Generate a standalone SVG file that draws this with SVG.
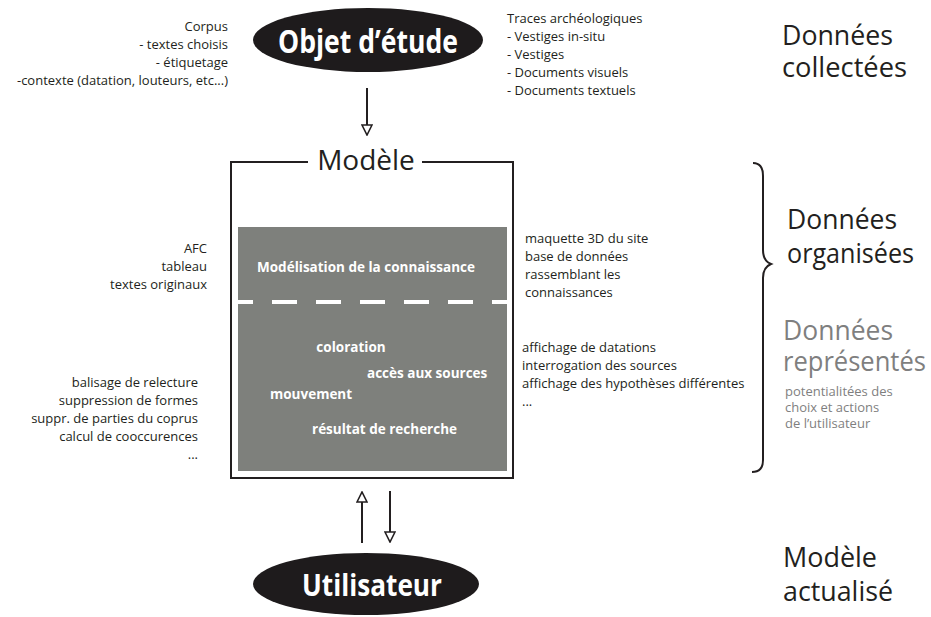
<svg xmlns="http://www.w3.org/2000/svg" width="931" height="617" viewBox="0 0 931 617">
<defs>
<style>
text{font-family:"Open Sans","Noto Sans","Liberation Sans",sans-serif;fill:#231f20}
.s{font-size:13px}
.big{font-size:27px}
.grey{fill:#7f7f7f}
.node{font-size:32px;font-weight:bold;fill:#fff}
.in{font-size:13.5px;font-weight:bold;fill:#fff}
.line{stroke:#231f20;stroke-width:2;fill:none}
</style>
<marker id="ah" viewBox="0 0 12 12" refX="11" refY="6" markerWidth="12" markerHeight="12" markerUnits="userSpaceOnUse" orient="auto">
<path d="M1,1 L11,6 L1,11 Z" fill="#fff" stroke="#231f20" stroke-width="1.6" stroke-linejoin="miter"/>
</marker>
</defs>
<rect width="931" height="617" fill="#fff"/>

<g id="objet">
<ellipse cx="368" cy="40" rx="115" ry="32" fill="#1e1b1c"/>
<text class="node" x="368" y="53" text-anchor="middle" textLength="180" lengthAdjust="spacingAndGlyphs">Objet d’étude</text>
</g>

<g id="corpus-notes" class="s">
<text x="228" y="31" text-anchor="end">Corpus</text>
<text x="228" y="49" text-anchor="end">- textes choisis</text>
<text x="228" y="67" text-anchor="end">- étiquetage</text>
<text x="228" y="85" text-anchor="end">-contexte (datation, louteurs, etc...)</text>
</g>

<g id="traces-notes" class="s">
<text x="507" y="23">Traces archéologiques</text>
<text x="507" y="41">- Vestiges in-situ</text>
<text x="507" y="59">- Vestiges</text>
<text x="507" y="77">- Documents visuels</text>
<text x="507" y="95">- Documents textuels</text>
</g>

<g id="modele">
<path class="line" d="M308,162 H231 V478 H513 V162 H422"/>
<text x="366" y="170" text-anchor="middle" style="font-size:28px">Modèle</text>
<rect x="238" y="227" width="269" height="244" fill="#7e807c"/>
<line x1="238" y1="302" x2="507" y2="302" stroke="#fff" stroke-width="4" stroke-dasharray="25 19" stroke-dashoffset="10"/>
<text class="in" x="366" y="272" text-anchor="middle">Modélisation de la connaissance</text>
<text class="in" x="351" y="352" text-anchor="middle">coloration</text>
<text class="in" x="367" y="378">accès aux sources</text>
<text class="in" x="270" y="399">mouvement</text>
<text class="in" x="312" y="434">résultat de recherche</text>
</g>

<g id="afc-notes" class="s">
<text x="207" y="253" text-anchor="end">AFC</text>
<text x="207" y="271" text-anchor="end">tableau</text>
<text x="207" y="289" text-anchor="end">textes originaux</text>
</g>

<g id="maquette-notes" class="s">
<text x="525" y="243">maquette 3D du site</text>
<text x="525" y="261">base de données</text>
<text x="525" y="279">rassemblant les</text>
<text x="525" y="297">connaissances</text>
</g>

<g id="balisage-notes" class="s">
<text x="198" y="387" text-anchor="end">balisage de relecture</text>
<text x="198" y="405" text-anchor="end">suppression de formes</text>
<text x="198" y="423" text-anchor="end">suppr. de parties du coprus</text>
<text x="198" y="441" text-anchor="end">calcul de cooccurences</text>
<text x="198" y="459" text-anchor="end">...</text>
</g>

<g id="affichage-notes" class="s">
<text x="522" y="352">affichage de datations</text>
<text x="522" y="370">interrogation des sources</text>
<text x="522" y="388">affichage des hypothèses différentes</text>
<text x="522" y="406">...</text>
</g>

<g id="utilisateur">
<ellipse cx="366" cy="584" rx="113" ry="31" fill="#1e1b1c"/>
<text class="node" x="372" y="596" text-anchor="middle" textLength="140" lengthAdjust="spacingAndGlyphs" style="font-size:30px">Utilisateur</text>
</g>

<g id="connectors">
<line class="line" x1="367" y1="88" x2="367" y2="135" marker-end="url(#ah)"/>
<line class="line" x1="362" y1="543" x2="362" y2="492" marker-end="url(#ah)"/>
<line class="line" x1="390" y1="491" x2="390" y2="542" marker-end="url(#ah)"/>
<path class="line" d="M753,163 C760,163 763,167 763,176 L763,250 C763,258 766,262 771,264 C766,266 763,270 763,278 L763,460 C763,468 760,472 752,472"/>
</g>

<g id="labels">
<text class="big" x="782" y="45" textLength="111" lengthAdjust="spacingAndGlyphs">Données</text>
<text class="big" x="782" y="77" textLength="125" lengthAdjust="spacingAndGlyphs">collectées</text>
<text class="big" x="787" y="229" textLength="110" lengthAdjust="spacingAndGlyphs">Données</text>
<text class="big" x="787" y="263" textLength="127" lengthAdjust="spacingAndGlyphs">organisées</text>
<text class="big grey" x="783" y="340" textLength="110" lengthAdjust="spacingAndGlyphs">Données</text>
<text class="big grey" x="783" y="371" textLength="143" lengthAdjust="spacingAndGlyphs">représentés</text>
<text class="s grey" x="785" y="396">potentialitées des</text>
<text class="s grey" x="785" y="412">choix et actions</text>
<text class="s grey" x="785" y="428">de l’utilisateur</text>
<text class="big" x="783" y="567" textLength="94" lengthAdjust="spacingAndGlyphs">Modèle</text>
<text class="big" x="783" y="601" textLength="110" lengthAdjust="spacingAndGlyphs">actualisé</text>
</g>
</svg>
